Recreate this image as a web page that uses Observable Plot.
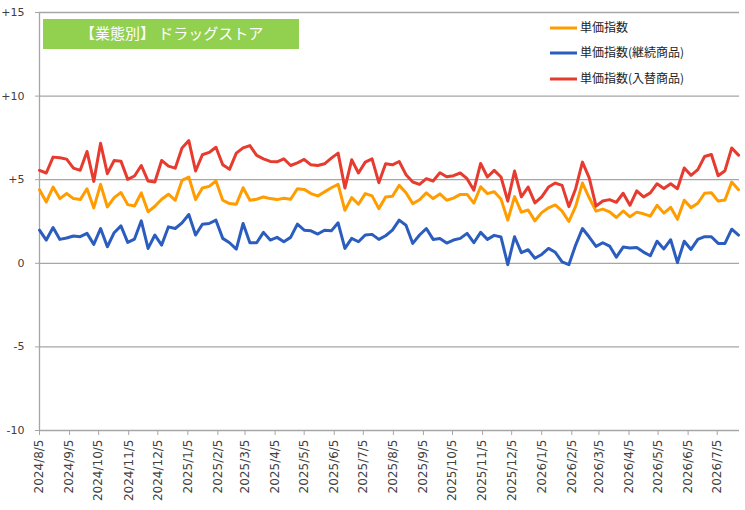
<!DOCTYPE html>
<html>
<head>
<meta charset="utf-8">
<script src="https://cdn.jsdelivr.net/npm/d3@7"></script>
<script src="https://cdn.jsdelivr.net/npm/@observablehq/plot@0.6"></script>
<style>
  body { margin: 0; background: #ffffff; }
  #chart svg { display: block; }
</style>
</head>
<body>
<div id="chart"></div>
<script>
// ---- data ----
const startDate = "2024-08-05";           // first weekly observation (Mondays)
const titleText = "【業態別】 ドラッグストア";
const seriesNames = ["単価指数", "単価指数(継続商品)", "単価指数(入替商品)"];
const seriesColors = ["#ff9d00", "#2b5dbe", "#e63b2e"];

const unitPrice = [
  4.40, 3.67, 4.56, 3.87, 4.17, 3.87, 3.81, 4.46, 3.31, 4.72,
  3.37, 3.93, 4.23, 3.51, 3.43, 4.21, 3.08, 3.41, 3.83, 4.13,
  3.77, 4.96, 5.16, 3.81, 4.50, 4.60, 4.92, 3.77, 3.57, 3.53,
  4.52, 3.77, 3.83, 3.97, 3.87, 3.81, 3.89, 3.83, 4.46, 4.42,
  4.17, 4.03, 4.27, 4.52, 4.72, 3.17, 3.93, 3.53, 4.17, 4.03,
  3.27, 3.97, 4.01, 4.66, 4.22, 3.57, 3.80, 4.21, 3.87, 4.15,
  3.77, 3.90, 4.12, 4.12, 3.60, 4.58, 4.17, 4.28, 3.84, 2.58,
  3.99, 3.06, 3.19, 2.54, 3.03, 3.32, 3.49, 3.12, 2.50, 3.40,
  4.80, 3.92, 3.12, 3.24, 3.08, 2.74, 3.13, 2.78, 3.06, 2.96,
  2.82, 3.47, 3.00, 3.35, 2.63, 3.77, 3.33, 3.59, 4.19, 4.22,
  3.72, 3.79, 4.86, 4.40
];
const continuing = [
  1.98, 1.39, 2.14, 1.43, 1.51, 1.63, 1.59, 1.79, 1.13, 2.08,
  0.99, 1.83, 2.24, 1.25, 1.45, 2.54, 0.89, 1.69, 1.09, 2.18,
  2.08, 2.42, 2.92, 1.69, 2.34, 2.38, 2.58, 1.49, 1.23, 0.85,
  2.38, 1.23, 1.23, 1.85, 1.39, 1.55, 1.29, 1.55, 2.34, 1.98,
  1.94, 1.75, 1.98, 1.94, 2.42, 0.89, 1.49, 1.29, 1.69, 1.73,
  1.43, 1.65, 1.98, 2.58, 2.28, 1.19, 1.69, 2.08, 1.43, 1.48,
  1.21, 1.39, 1.49, 1.79, 1.23, 1.85, 1.43, 1.67, 1.57, -0.08,
  1.59, 0.64, 0.81, 0.30, 0.53, 0.89, 0.66, 0.08, -0.08, 1.09,
  2.08, 1.57, 1.01, 1.23, 1.03, 0.37, 0.97, 0.91, 0.95, 0.67,
  0.45, 1.32, 0.86, 1.41, 0.04, 1.32, 0.83, 1.43, 1.59, 1.59,
  1.19, 1.19, 2.04, 1.69
];
const replaced = [
  5.56, 5.40, 6.35, 6.31, 6.23, 5.69, 5.56, 6.69, 4.90, 7.18,
  5.36, 6.15, 6.11, 5.02, 5.22, 5.85, 4.92, 4.86, 6.15, 5.81,
  5.69, 6.90, 7.34, 5.52, 6.49, 6.63, 6.94, 5.89, 5.62, 6.59,
  6.90, 7.04, 6.45, 6.25, 6.09, 6.07, 6.25, 5.85, 6.01, 6.21,
  5.89, 5.85, 5.95, 6.29, 6.59, 4.50, 6.19, 5.40, 6.05, 6.25,
  4.82, 5.95, 5.89, 6.09, 5.30, 4.86, 4.72, 5.06, 4.92, 5.42,
  5.18, 5.24, 5.40, 5.06, 4.37, 5.97, 5.16, 5.56, 5.16, 3.72,
  5.52, 3.97, 4.56, 3.61, 3.97, 4.56, 4.80, 4.66, 3.39, 4.46,
  6.05, 5.11, 3.42, 3.73, 3.81, 3.65, 4.19, 3.47, 4.33, 3.97,
  4.21, 4.76, 4.48, 4.76, 4.46, 5.70, 5.26, 5.60, 6.39, 6.51,
  5.24, 5.54, 6.90, 6.47
];

const xTickLabels = [
  "2024/8/5", "2024/9/5", "2024/10/5", "2024/11/5", "2024/12/5",
  "2025/1/5", "2025/2/5", "2025/3/5", "2025/4/5", "2025/5/5", "2025/6/5",
  "2025/7/5", "2025/8/5", "2025/9/5", "2025/10/5", "2025/11/5", "2025/12/5",
  "2026/1/5", "2026/2/5", "2026/3/5", "2026/4/5", "2026/5/5", "2026/6/5", "2026/7/5"
];
const yTicks = [-10, -5, 0, 5, 10, 15];

// ---- build table ----
const parseLabel = s => { const [y, m, d] = s.split("/").map(Number); return new Date(Date.UTC(y, m - 1, d)); };
const fmtLabel = d => `${d.getUTCFullYear()}/${d.getUTCMonth() + 1}/${d.getUTCDate()}`;
const t0 = new Date(startDate + "T00:00:00Z");
const dates = unitPrice.map((_, i) => d3.utcDay.offset(t0, 7 * i));
const rows = [];
[unitPrice, continuing, replaced].forEach((arr, s) =>
  arr.forEach((v, i) => rows.push({date: dates[i], value: v, series: seriesNames[s]}))
);
const xTicks = xTickLabels.map(parseLabel);
const xDomain = [t0, d3.utcDay.offset(dates[dates.length - 1], 1)];

const gridColor = "#a6a6a6";
const textColor = "#404040";

const chart = Plot.plot({
  width: 745,
  height: 510,
  marginLeft: 39,
  marginRight: 6,
  marginTop: 12,
  marginBottom: 80,
  style: {fontFamily: "'DejaVu Sans', Verdana, sans-serif", fontSize: "12px", color: textColor, background: "#ffffff"},
  x: {type: "utc", domain: xDomain, label: null},
  y: {domain: [-10, 15], label: null},
  color: {domain: seriesNames, range: seriesColors},
  marks: [
    Plot.ruleY(yTicks, {stroke: gridColor, strokeWidth: 1.3}),
    Plot.ruleX([xDomain[0]], {stroke: gridColor, strokeWidth: 1.3}),
    Plot.axisY({ticks: yTicks, tickFormat: d => d > 0 ? "+" + d : String(d), tickSize: 4, tickPadding: 11,
                stroke: gridColor, fill: textColor, fontSize: 11, label: null}),
    Plot.axisX({ticks: xTicks, tickFormat: fmtLabel, tickRotate: -90, tickSize: 5, tickPadding: 4,
                stroke: gridColor, fill: textColor, fontSize: 12, label: null}),
    Plot.lineY(rows, {x: "date", y: "value", z: "series", stroke: "series", strokeWidth: 3, strokeLinejoin: "round"})
  ]
});

document.getElementById("chart").appendChild(chart);

// ---- in-chart title box and legend ----
const svg = d3.select(chart);
const cjk = "'Noto Sans CJK JP', 'Noto Sans', sans-serif";
const tg = svg.append("g");
tg.append("rect").attr("x", 43).attr("y", 19).attr("width", 256).attr("height", 30).attr("fill", "#92d050");
tg.append("text").attr("x", 80).attr("y", 34).attr("dy", "0.35em").attr("text-anchor", "start")
  .attr("fill", "#ffffff").attr("font-family", cjk).attr("font-size", 15).text(titleText);

const lg = svg.append("g");
const legendY = [28, 53, 79];
seriesNames.forEach((name, i) => {
  lg.append("line").attr("x1", 550).attr("x2", 577).attr("y1", legendY[i]).attr("y2", legendY[i])
    .attr("stroke", seriesColors[i]).attr("stroke-width", 3);
  lg.append("text").attr("x", 580).attr("y", legendY[i]).attr("dy", "0.35em").attr("text-anchor", "start")
    .attr("fill", "#222222").attr("font-family", cjk).attr("font-size", 12).text(name);
});
</script>
</body>
</html>
